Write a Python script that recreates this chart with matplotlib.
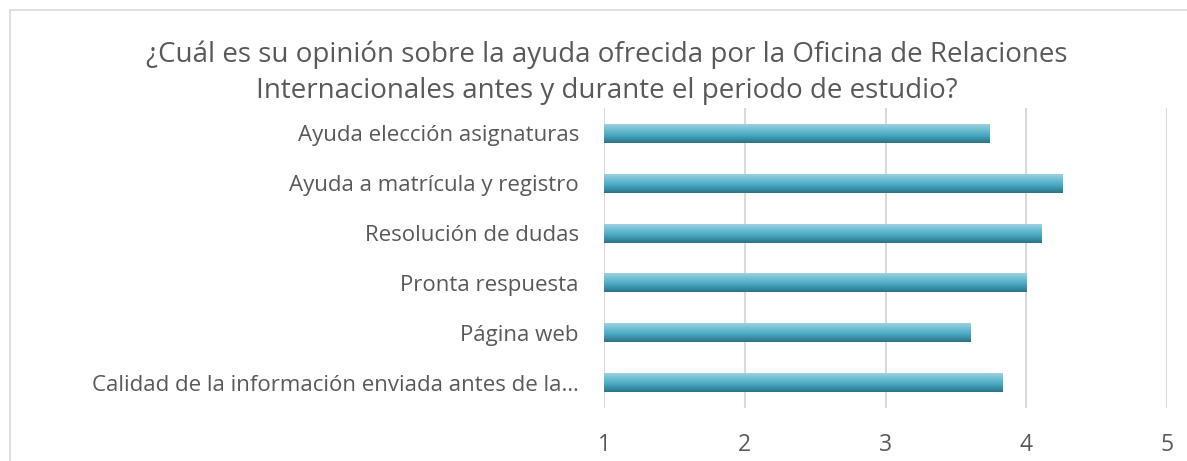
import matplotlib.pyplot as plt
from matplotlib.lines import Line2D
import numpy as np
from matplotlib.colors import LinearSegmentedColormap

categories = [
    "Calidad de la información enviada antes de la…",
    "Página web",
    "Pronta respuesta",
    "Resolución de dudas",
    "Ayuda a matrícula y registro",
    "Ayuda elección asignaturas",
]
values = [3.83, 3.60, 4.00, 4.11, 4.26, 3.74]
ticks = [1, 2, 3, 4, 5]

title = ("¿Cuál es su opinión sobre la ayuda ofrecida por la Oficina de Relaciones\n"
         "Internacionales antes y durante el periodo de estudio?")

plt.rcParams["font.family"] = ["Open Sans", "DejaVu Sans"]
text_color = "#595959"

fig = plt.figure(figsize=(11.87, 4.61), dpi=100)
ax = fig.add_axes([0.5088, 0.115, 0.4744, 0.6507])

y = np.arange(len(categories))
bars = ax.barh(y, np.array(values) - 1, left=1, height=0.38, color="none", zorder=2)

# vertical gradient like the Excel bar fill
cmap = LinearSegmentedColormap.from_list(
    "bar", [(0.0, "#2B7288"), (0.45, "#4AACC6"), (1.0, "#9BD1E1")])
grad = np.linspace(0, 1, 100).reshape(-1, 1)
for b in bars:
    x0, y0 = b.get_x(), b.get_y()
    ax.imshow(grad, cmap=cmap, aspect="auto", origin="lower",
              extent=[x0, x0 + b.get_width(), y0, y0 + b.get_height()], zorder=2)

ax.set_xlim(1, 5)
ax.set_ylim(-0.5, len(categories) - 0.5)
ax.set_xticks(ticks)
ax.set_yticks(y)
ax.set_yticklabels(categories)
ax.grid(axis="x", color="#D9D9D9", linewidth=1.5, zorder=0)
ax.set_axisbelow(True)
for s in ax.spines.values():
    s.set_visible(False)
ax.tick_params(axis="both", length=0, colors=text_color, labelsize=16)
ax.tick_params(axis="x", labelsize=16.5, pad=18)
ax.tick_params(axis="y", pad=18)

fig.text(0.511, 0.843, title, ha="center", va="center", fontsize=20,
         color=text_color, linespacing=1.38)

# chart frame (left and top edges visible)
fig.add_artist(Line2D([10 / 1187, 10 / 1187], [0, 1 - 10 / 461],
                      transform=fig.transFigure, color="#D9D9D9", linewidth=1.2))
fig.add_artist(Line2D([10 / 1187, 1], [1 - 10 / 461, 1 - 10 / 461],
                      transform=fig.transFigure, color="#D9D9D9", linewidth=1.2))

fig.savefig("out.png", dpi=100, facecolor="white")
